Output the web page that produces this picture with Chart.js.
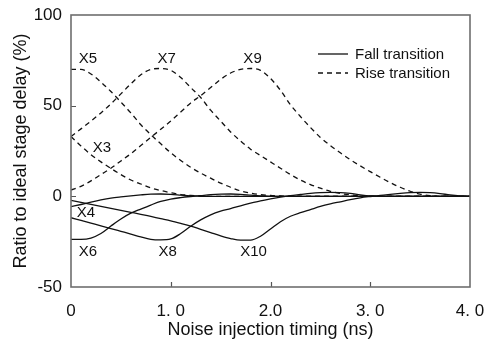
<!DOCTYPE html>
<html>
<head>
<meta charset="utf-8">
<script src="https://cdn.jsdelivr.net/npm/chart.js@4/dist/chart.umd.min.js"></script>
<style>
  html, body { margin: 0; padding: 0; background: #fff; }
  #wrap { width: 487px; height: 341px; }
</style>
</head>
<body>
<div id="wrap"><canvas id="c" width="487" height="341"></canvas></div>
<script>
// Noise injection timing (ns), sampled every 0.1 ns
const timing = [0,0.1,0.2,0.3,0.4,0.5,0.6,0.7,0.8,0.9,1.0,1.1,1.2,1.3,1.4,1.5,1.6,1.7,1.8,1.9,2.0,
  2.1,2.2,2.3,2.4,2.5,2.6,2.7,2.8,2.9,3.0,3.1,3.2,3.3,3.4,3.5,3.6,3.7,3.8,3.9,4.0];

// Rise transition stages (%)
const riseX3 = [33,27.8,23,19,15.4,12,9,6.8,4.7,3.2,2,1,0.5,0.2,0,0,0,0,0,0,0,
  0,0,0,0,0,0,0,0,0,0,0,0,0,0,0,0,0,0,0,0];
const riseX5 = [70,70,67.5,63,57.8,52,46,39.5,34,29,24,19.8,16,12.8,10,7.3,5,3,1.8,1,0.5,
  0.2,0,0,0,0,0,0,0,0,0,0,0,0,0,0,0,0,0,0,0];
const riseX7 = [33,37.2,41.5,46,51,56.5,62,67,70,70.5,69.5,65.5,60,54.5,47.5,41.5,35.5,30.5,26,22.5,19,
  15.5,12,9,6.5,4.5,2.8,1.6,0.8,0.3,0,0,0,0,0,0,0,0,0,0,0];
const riseX9 = [3.5,5.5,8.5,12,15.5,19.5,23.5,28,32.5,37,41.5,46.5,51.5,55.5,60,64.5,68,70,70.5,69.5,65,
  58.5,50.5,44,38,32.5,28,24,20.2,16.8,13.6,10.5,7.6,5,2.8,1.2,0.4,0,0,0,0];

// Fall transition stages (%)
const fallX4 = [-5.7,-4.5,-3.2,-2,-1,-0.3,0.3,0.8,1.2,1.3,1.1,0.7,0.3,0,0,0,0,0,0,0,0,
  0,0,0,0,0,0,0,0,0,0,0,0,0,0,0,0,0,0,0,0];
const fallX6 = [-23.7,-23.7,-23,-20.5,-16.4,-12.5,-9.3,-7,-4.8,-2.8,-1.5,-0.7,-0.1,0.4,0.9,1.2,1.3,1.1,0.7,0.3,0,
  0,0,0,0,0,0,0,0,0,0,0,0,0,0,0,0,0,0,0,0];
const fallX8 = [-11.8,-13.3,-14.8,-16.3,-17.8,-19.3,-20.8,-22.4,-23.7,-24,-23.5,-20.5,-16.5,-13,-10.2,-8.2,-6.8,-5.2,-3.8,-2.5,-1.4,
  -0.4,0.4,1,1.6,2,2.2,2.1,1.6,0.8,0.2,0,0,0,0,0,0,0,0,0,0];
const fallX10 = [-2.2,-3.3,-4.4,-5.5,-6.6,-7.7,-8.8,-9.9,-11.1,-12.3,-13.5,-14.9,-16.4,-18.2,-20,-21.8,-23.3,-24.2,-24.2,-22,-18,
  -14,-11,-9,-7.3,-5.6,-4.2,-3,-1.8,-0.8,-0.1,0.5,1.1,1.6,2,2.2,2,1.5,0.8,0.3,0];

// Axis tick labels
const xTickLabels = ['0', '1. 0', '2.0', '3. 0', '4. 0'];
const yTicks = [-50, 0, 50, 100];

// Stage name annotations, anchored in data units
const stageNotes = [
  { text: 'X5', x: 0.17, y: 76 },
  { text: 'X7', x: 0.96, y: 76 },
  { text: 'X9', x: 1.82, y: 76 },
  { text: 'X3', x: 0.31, y: 27 },
  { text: 'X4', x: 0.15, y: -9 },
  { text: 'X6', x: 0.17, y: -30.5 },
  { text: 'X8', x: 0.97, y: -30.5 },
  { text: 'X10', x: 1.83, y: -30.5 }
];

const FONT = '"Liberation Sans", Arial, Helvetica, sans-serif';
const INK = '#111';

function pts(vals) { return timing.map((t, i) => ({ x: t, y: vals[i] })); }
function series(name, vals, dashed) {
  return {
    label: name,
    data: pts(vals),
    borderColor: INK,
    borderWidth: 1.3,
    borderDash: dashed ? [5, 4] : [],
    pointRadius: 0,
    fill: false,
    cubicInterpolationMode: 'monotone'
  };
}

const framePlugin = {
  id: 'frameAndNotes',
  afterDraw(chart) {
    const { ctx, chartArea: a, scales: { x, y } } = chart;
    ctx.save();
    // inward tick marks
    ctx.strokeStyle = '#555';
    ctx.lineWidth = 1.2;
    ctx.beginPath();
    [1, 2, 3].forEach(v => {
      const px = Math.round(x.getPixelForValue(v)) + 0.5;
      ctx.moveTo(px, a.bottom); ctx.lineTo(px, a.bottom - 5);
    });
    [0, 50].forEach(v => {
      const py = Math.round(y.getPixelForValue(v)) + 0.5;
      ctx.moveTo(a.left, py); ctx.lineTo(a.left + 5, py);
    });
    ctx.stroke();
    // plot frame
    ctx.strokeStyle = '#6e6e6e';
    ctx.lineWidth = 1.6;
    ctx.strokeRect(a.left, a.top, a.right - a.left, a.bottom - a.top);

    // stage names
    ctx.fillStyle = INK;
    ctx.font = '15px ' + FONT;
    ctx.textAlign = 'center';
    ctx.textBaseline = 'middle';
    stageNotes.forEach(n => {
      ctx.fillText(n.text, x.getPixelForValue(n.x), y.getPixelForValue(n.y));
    });

    // legend
    const lx = a.right - 152, ly1 = a.top + 39, ly2 = a.top + 58;
    ctx.strokeStyle = INK;
    ctx.lineWidth = 1.3;
    ctx.beginPath(); ctx.moveTo(lx, ly1); ctx.lineTo(lx + 30, ly1); ctx.stroke();
    ctx.setLineDash([5, 4]);
    ctx.beginPath(); ctx.moveTo(lx, ly2); ctx.lineTo(lx + 30, ly2); ctx.stroke();
    ctx.setLineDash([]);
    ctx.textAlign = 'left';
    ctx.fillText('Fall transition', lx + 37, ly1 + 1);
    ctx.fillText('Rise transition', lx + 37, ly2 + 1);
    ctx.restore();
  }
};

new Chart(document.getElementById('c'), {
  type: 'line',
  data: {
    datasets: [
      series('X3', riseX3, true),
      series('X5', riseX5, true),
      series('X7', riseX7, true),
      series('X9', riseX9, true),
      series('X4', fallX4, false),
      series('X6', fallX6, false),
      series('X8', fallX8, false),
      series('X10', fallX10, false)
    ]
  },
  options: {
    responsive: false,
    animation: false,
    devicePixelRatio: 1,
    layout: { padding: { top: 15, right: 17, left: 0, bottom: 0 } },
    plugins: { legend: { display: false }, tooltip: { enabled: false } },
    scales: {
      x: {
        type: 'linear',
        min: 0, max: 4,
        afterFit: s => { s.height = 54; s.paddingLeft = 0; s.paddingRight = 0; },
        afterBuildTicks: s => { s.ticks = [0, 1, 2, 3, 4].map(v => ({ value: v })); },
        ticks: {
          color: INK,
          font: { family: FONT, size: 17 },
          padding: 14,
          maxRotation: 0,
          callback: (v) => xTickLabels[Math.round(v)]
        },
        grid: { display: false, drawTicks: false },
        border: { display: false },
        title: {
          display: true,
          text: 'Noise injection timing (ns)',
          color: INK,
          font: { family: FONT, size: 18 },
          padding: { top: 0, bottom: 0 }
        }
      },
      y: {
        type: 'linear',
        min: -50, max: 100,
        afterFit: s => { s.width = 71; s.paddingTop = 0; s.paddingBottom = 0; },
        afterBuildTicks: s => { s.ticks = yTicks.map(v => ({ value: v })); },
        ticks: {
          color: INK,
          font: { family: FONT, size: 17 },
          padding: 9
        },
        grid: { display: false, drawTicks: false },
        border: { display: false },
        title: {
          display: true,
          text: 'Ratio to ideal stage delay (%)',
          color: INK,
          font: { family: FONT, size: 18 },
          padding: { top: 10, bottom: 0 }
        }
      }
    }
  },
  plugins: [framePlugin]
});
</script>
</body>
</html>
